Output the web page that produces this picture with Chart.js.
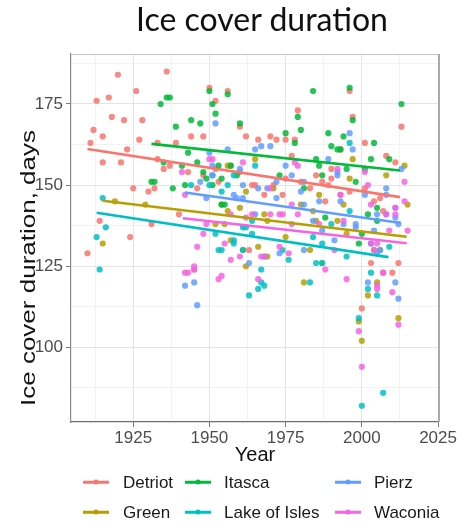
<!DOCTYPE html>
<html><head><meta charset="utf-8">
<script src="https://cdn.jsdelivr.net/npm/chart.js@4.4.0/dist/chart.umd.min.js"></script>
<style>
html,body{margin:0;padding:0;background:#fff;}
#wrap{position:relative;width:458px;height:522px;overflow:hidden;background:#fff;}
#c{position:absolute;left:0;top:0;}
#title{position:absolute;left:262px;top:3px;transform:translateX(-50%);font-family:Lato,"Open Sans",sans-serif;font-size:32px;line-height:1;color:#111;white-space:nowrap;}
#ytitle{position:absolute;left:28px;top:268px;transform:translate(-50%,-50%) rotate(-90deg) scaleX(1.3);font-family:"Liberation Sans",Arial,sans-serif;font-size:20px;line-height:1;color:#111;white-space:nowrap;}
.lg{position:absolute;font-family:"Liberation Sans",Arial,sans-serif;font-size:17px;line-height:1;color:#1a1a1a;white-space:nowrap;transform:translateY(-50%);}
.key{position:absolute;height:2.5px;transform:translateY(-50%);}
.dot{position:absolute;width:5px;height:5px;border-radius:50%;transform:translate(-50%,-50%);}
</style></head>
<body><div id="wrap"><canvas id="c" width="458" height="522"></canvas>
<div id="title">Ice cover duration</div>
<div id="ytitle">Ice cover duration, days</div>
<div id="legend"></div></div>
<script>
const lakes = ['Detriot','Green','Itasca','Lake of Isles','Pierz','Waconia'];
const colors = ['#F8766D','#B79F00','#00BA38','#00BFC4','#619CFF','#F564E3'];

const detriotYears = [1910,1911,1912,1913,1914,1915,1915,1917,1918,1920,
 1921,1922,1923,1924,1925,1926,1927,1928,1930,1931,
 1932,1933,1933,1935,1936,1937,1939,1940,1943,1944,
 1945,1946,1948,1948,1950,1952,1952,1953,1956,1957,
 1960,1960,1962,1963,1964,1965,1966,1968,1970,1971,
 1972,1974,1975,1975,1977,1978,1979,1980,1983,1985,
 1987,1988,1989,1990,1990,1993,1993,1996,1996,1997,
 2000,2001,2001,2003,2004,2006,2007,2007,2008,2010,
 2011,2012,2013];
const detriotDays = [129,163,167,176,139,165,157,177,171,184,
 157,170,161,134,149,179,164,170,148,138,
 149,163,158,155,185,156,163,141,154,165,
 124,149,165,153,180,176,155,151,179,156,
 168,154,165,130,150,150,164,147,165,150,
 164,147,164,152,159,164,173,151,149,153,
 151,145,150,155,152,161,147,179,148,171,
 112,163,149,126,145,146,123,142,159,123,
 157,126,168];

const greenYears = [1915,1919,1929,1952,1954,1955,1956,1956,1957,1960,
 1961,1962,1962,1965,1966,1968,1969,1969,1971,1975,
 1980,1981,1983,1984,1985,1986,1987,1992,1994,1995,
 1996,1997,1999,2000,2002,2004,2005,2006,2008,2012,
 2014,2015];
const greenDays = [132,145,144,138,144,138,156,142,133,143,
 130,148,125,158,131,141,139,128,149,134,
 144,120,130,142,139,147,126,139,144,135,
 152,158,108,102,116,130,120,130,153,109,
 156,144];

const itascaYears = [1931,1932,1934,1935,1936,1937,1938,1939,1941,1942,
 1943,1944,1946,1947,1948,1949,1950,1951,1951,1952,
 1953,1954,1954,1955,1956,1957,1959,1960,1973,1975,
 1978,1979,1980,1981,1984,1985,1986,1987,1988,1989,
 1990,1992,1993,1994,1995,1996,1997,1998,1999,2000,
 2001,2002,2003,2004,2005,2005,2009,2013];
const itascaDays = [151,151,175,157,177,177,149,168,156,150,
 160,170,157,169,154,152,179,175,150,172,
 156,152,144,144,178,156,153,169,153,166,
 163,171,167,149,179,158,156,153,140,166,
 162,161,161,165,155,180,170,151,132,135,
 155,141,158,163,143,139,158,175];

const islesYears = [1913,1914,1915,1916,1944,1950,1951,1952,1953,1954,
 1954,1956,1958,1958,1958,1961,1961,1962,1963,1964,
 1964,1965,1966,1967,1967,1968,1968,1974,1976,1983,
 1984,1985,1987,1987,1990,1995,1996,1996,1999,2000,
 2002,2003,2003,2005,2007,2009];
const islesDays = [134,124,146,137,150,150,153,135,130,130,
 148,150,153,133,132,137,130,137,116,139,
 135,156,118,124,120,119,128,130,127,120,
 134,126,132,126,138,128,142,163,109,82,
 118,123,132,116,86,131];

const pierzYears = [1942,1945,1946,1947,1949,1950,1951,1951,1952,1956,
 1958,1959,1960,1961,1961,1963,1965,1965,1966,1967,
 1969,1970,1972,1972,1973,1975,1977,1980,1981,1981,
 1981,1984,1986,1987,1989,1991,1992,1992,1993,1994,
 1996,1997,1998,1998,2001,2002,2004,2005,2005,2006,
 2008,2008,2008,2011,2011,2011,2012,2012,2013];
const pierzDays = [119,120,113,151,146,160,156,153,169,161,
 147,146,155,150,146,126,161,141,149,162,
 149,162,146,151,129,156,153,148,151,144,
 130,139,145,136,158,133,154,153,145,138,
 166,161,138,137,147,120,136,141,129,130,
 149,147,141,143,140,120,115,138,155];

const waconiaYears = [1941,1942,1942,1943,1945,1945,1946,1948,1949,1950,
 1951,1953,1954,1955,1957,1957,1960,1961,1962,1964,
 1966,1967,1968,1970,1970,1973,1973,1974,1976,1977,
 1977,1978,1979,1979,1986,1988,1991,1992,1993,1994,
 1995,1999,2000,2001,2002,2003,2003,2004,2005,2005,
 2005,2007,2008,2009,2010,2011,2011,2012,2014,2014,
 2015];
const waconiaDays = [154,147,123,123,125,124,131,135,138,158,
 158,121,122,132,127,141,128,157,140,141,
 121,128,128,149,141,131,141,141,129,138,
 144,157,156,141,138,124,130,155,147,139,
 121,105,94,154,150,144,132,130,132,119,
 118,123,141,136,117,143,141,107,151,145,
 136];

// fitted linear trend per lake (start/end)
const fitStartYear = [1910, 1915, 1931, 1913, 1942, 1941.3];
const fitStartDays = [161.1, 145.2, 162.7, 141.5, 147.7, 139.8];
const fitEndYear   = [2012.5, 2014.7, 2012.5, 2008.7, 2012.8, 2014.7];
const fitEndDays   = [146.3, 134.1, 154.5, 127.8, 138.3, 132.1];

const xTickLabels = [1925, 1950, 1975, 2000, 2025];
const yTickLabels = [100, 125, 150, 175];

const allYears = [detriotYears, greenYears, itascaYears, islesYears, pierzYears, waconiaYears];
const allDays  = [detriotDays, greenDays, itascaDays, islesDays, pierzDays, waconiaDays];

function hexA(h, a){
  const r=parseInt(h.slice(1,3),16), g=parseInt(h.slice(3,5),16), b=parseInt(h.slice(5,7),16);
  return `rgba(${r},${g},${b},${a})`;
}
function withMinor(major){
  const step = major[1]-major[0];
  const out = [major[0]-step/2];
  major.forEach(v=>{ out.push(v); out.push(v+step/2); });
  return out;
}
const xAll = withMinor(xTickLabels).filter(v=>v<=2025);
const yAll = withMinor(yTickLabels);

const datasets = [];
lakes.forEach((name,i)=>{
  datasets.push({
    label: name+' fit', showLine: true,
    data: [{x:fitStartYear[i], y:fitStartDays[i]}, {x:fitEndYear[i], y:fitEndDays[i]}],
    borderColor: colors[i], borderWidth: 2.6, pointRadius: 0, fill:false, order: 0
  });
});
lakes.forEach((name,i)=>{
  datasets.push({
    label: name,
    data: allYears[i].map((yr,k)=>({x:yr, y:allDays[i][k]})),
    backgroundColor: hexA(colors[i],0.85), borderWidth: 0, pointRadius: 3.1, order: 10-i
  });
});

const isMajor = (arr,v)=>arr.some(m=>Math.abs(m-v)<1e-6);
const gridColor = arr => ctx => (ctx.tick && isMajor(arr, ctx.tick.value)) ? '#e4e4e4' : '#f2f2f2';
const tickCol = arr => ctx => (ctx.tick && isMajor(arr, ctx.tick.value)) ? '#7a7a7a' : 'rgba(0,0,0,0)';

const frame = {
  id:'frame',
  beforeDatasetsDraw(chart){
    const {ctx, chartArea:a} = chart;
    ctx.save();
    ctx.strokeStyle='#c4c4c4'; ctx.lineWidth=1;
    ctx.beginPath(); ctx.moveTo(a.left, a.top+0.5); ctx.lineTo(a.right, a.top+0.5); ctx.stroke();
    ctx.strokeStyle='#a8a8a8'; ctx.lineWidth=2;
    ctx.beginPath(); ctx.moveTo(a.right, a.top); ctx.lineTo(a.right, a.bottom); ctx.stroke();
    ctx.restore();
  }
};

const font = {family:'"Liberation Sans", Arial, sans-serif', size:17};
new Chart(document.getElementById('c'), {
  type:'scatter',
  data:{datasets},
  options:{
    responsive:false, animation:false, devicePixelRatio:1,
    layout:{padding:{left:0, right:17, top:54, bottom:52}},
    plugins:{legend:{display:false}, tooltip:{enabled:false}},
    scales:{
      x:{
        type:'linear', min:1904.6, max:2025.3,
        afterBuildTicks: s => { s.ticks = xAll.map(v=>({value:v})); },
        afterFit: s => { s.height = 48; },
        ticks:{ autoSkip:false, maxRotation:0, color:'#4d4d4d', font, padding:1,
          callback: v => isMajor(xTickLabels, v) ? String(v) : '' },
        grid:{ color: gridColor(xTickLabels), lineWidth:1, tickLength:5, tickColor: tickCol(xTickLabels) },
        border:{ color:'#6e6e6e', width:1.2 },
        title:{ display:true, text:'Year', color:'#111', font:{family:font.family, size:20}, padding:{top:0,bottom:3} }
      },
      y:{
        type:'linear', min:77, max:190.4,
        afterBuildTicks: s => { s.ticks = yAll.map(v=>({value:v})); },
        afterFit: s => { s.width = 71; },
        ticks:{ autoSkip:false, color:'#4d4d4d', font, padding:3,
          callback: v => isMajor(yTickLabels, v) ? String(v) : '' },
        grid:{ color: gridColor(yTickLabels), lineWidth:1, tickLength:5, tickColor: tickCol(yTickLabels) },
        border:{ color:'#8c8c8c', width:1.2 },
        title:{ display:false }
      }
    }
  },
  plugins:[frame]
});

// legend (column-major like ggplot)
const legendCols = [{key:83, text:123}, {key:185, text:224}, {key:335, text:374}];
const legendRows = [482, 512];
const lg = document.getElementById('legend');
lakes.forEach((name,i)=>{
  const col = legendCols[Math.floor(i/2)], y = legendRows[i%2];
  const key = document.createElement('div');
  key.className='key'; key.style.left=col.key+'px'; key.style.top=y+'px'; key.style.width='26px'; key.style.background=colors[i];
  lg.appendChild(key);
  const dot = document.createElement('div');
  dot.className='dot'; dot.style.left=(col.key+13)+'px'; dot.style.top=y+'px'; dot.style.background=colors[i];
  lg.appendChild(dot);
  const t = document.createElement('div');
  t.className='lg'; t.style.left=col.text+'px'; t.style.top=y+'px'; t.textContent=name;
  lg.appendChild(t);
});
</script>
</body></html>
